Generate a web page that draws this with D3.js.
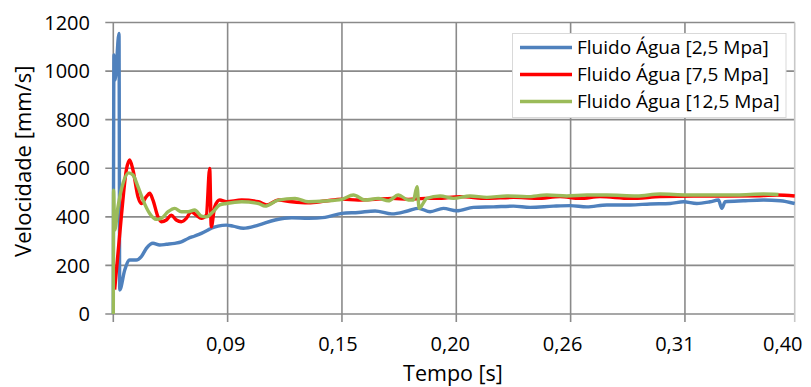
<!DOCTYPE html>
<html>
<head>
<meta charset="utf-8">
<script src="https://cdn.jsdelivr.net/npm/d3@7"></script>
<style>
  html, body { margin: 0; padding: 0; background: #fff; }
  svg { display: block; font-family: "Open Sans", sans-serif; }
</style>
</head>
<body>
<svg id="chart" width="811" height="387"></svg>
<script>
// sample index (category axis) vs velocity [mm/s]
const agua25 = [[0,0],[0.6,1066],[1.5,963],[5,1155],[5.6,99],[10,181],[14.3,222],[20.1,222],[24.5,236],[28.9,270],[34.7,291],[40.6,284],[46.4,287],[53.7,291],[59.5,297],[65.4,311],[71.2,321],[77,332],[82.9,346],[85.7,353],[91.6,362],[98.9,366],[104.7,362],[113.7,353],[126.9,366],[141.5,387],[156.1,396],[170.6,394],[185.2,398],[199.8,414],[214.3,418],[229,424],[243.6,412],[258.1,425],[266.8,435],[277.1,421],[288.7,435],[300.4,425],[315,439],[332.5,441],[350,444],[364.6,439],[385,444],[399.6,446],[414.2,441],[431.7,449],[452.1,449],[469.6,453],[487.1,455],[498.7,462],[510.4,455],[522,462],[529.3,469],[532.3,435],[535.2,462],[551.2,466],[568.7,469],[583.3,466],[596,455]]

const agua75 = [[1.2,100],[7,400],[11.4,593],[14.3,634],[17.2,593],[21.6,483],[24.5,455],[28.9,483],[31.8,497],[34.7,469],[39.1,400],[42,380],[46.4,387],[50.7,407],[55.1,387],[59.5,380],[63.9,394],[68.2,421],[72.6,407],[77,394],[81.4,407],[84.3,599],[85.7,359],[88.7,441],[93.1,469],[98.9,462],[112.3,469],[126.9,462],[134.2,449],[144.4,469],[156.1,462],[170.6,458],[185.2,465],[199.8,473],[214.3,469],[229,472],[243.6,476],[258.1,472],[272.7,476],[282.9,476],[303.3,483],[326.7,476],[350,480],[370.4,476],[390.8,483],[408.3,476],[425.8,483],[452.1,476],[478.3,483],[507.4,486],[536.7,486],[565.8,487],[580.4,490],[596,486]]

const agua125 = [[0,0],[0.2,510],[1.2,346],[4.1,441],[8.5,538],[13.5,581],[17.2,572],[21.6,524],[26,469],[31.8,414],[37.6,390],[42,394],[47.9,421],[53.7,435],[59.5,421],[65.4,421],[71.2,428],[77,403],[81.4,400],[87.2,421],[93.1,449],[98.9,455],[112.3,462],[126.9,455],[132.7,444],[144.4,469],[159,476],[170.6,462],[185.2,465],[199.8,472],[210,490],[220.2,469],[231.8,476],[240.6,466],[249.3,490],[258.1,469],[262.5,469],[265.7,524],[267.5,435],[274.2,476],[285.8,486],[297.5,476],[312.1,486],[326.7,480],[344.2,486],[361.7,483],[379.2,490],[396.7,486],[414.2,490],[431.7,490],[457.9,486],[478.3,494],[501.7,490],[522,490],[545.4,490],[568.7,494],[581.8,492]]

const seriesNames = ['Fluido Água [2,5 Mpa]', 'Fluido Água [7,5 Mpa]', 'Fluido Água [12,5 Mpa]']
const seriesColors = ['#4f81bd', '#ff0000', '#9bbb59']

const xTickIndex = [100, 200, 300, 400, 500, 596]
const xTickLabels = ['0,09', '0,15', '0,20', '0,26', '0,31', '0,40']
const yTicks = [0, 200, 400, 600, 800, 1000, 1200]

const plotLeft = 113.3, plotRight = 794.7, plotTop = 22.5, plotBottom = 314
const gridColor = '#8a8a8a'

const svg = d3.select('#chart')

const x = d3.scaleLinear().domain([0, 596]).range([plotLeft, plotRight])
const y = d3.scaleLinear().domain([0, 1200]).range([plotBottom, plotTop])
// excel spreads the category labels a little tighter than the gridlines
const xLabel = d3.scaleLinear().domain([0, 500]).range([plotLeft, x(500) - 10])

// horizontal gridlines + tick marks
svg.append('g')
	.selectAll('line')
	.data(yTicks)
	.join('line')
	.attr('x1', plotLeft - 8)
	.attr('x2', plotRight)
	.attr('y1', d => y(d))
	.attr('y2', d => y(d))
	.attr('stroke', gridColor)
	.attr('stroke-width', 1.6)

// vertical gridlines + tick marks
svg.append('g')
	.selectAll('line')
	.data([0].concat(xTickIndex))
	.join('line')
	.attr('x1', d => x(d))
	.attr('x2', d => x(d))
	.attr('y1', plotTop)
	.attr('y2', plotBottom + 8)
	.attr('stroke', (d, i) => i === xTickIndex.length ? '#c8c8c8' : gridColor)
	.attr('stroke-width', 1.6)

svg.append('g')
	.selectAll('text')
	.data(yTicks)
	.join('text')
	.attr('x', 90)
	.attr('y', d => y(d))
	.attr('dy', '0.36em')
	.attr('text-anchor', 'end')
	.attr('font-size', 20)
	.attr('fill', '#000')
	.text(d => d)

svg.append('g')
	.selectAll('text')
	.data(xTickIndex)
	.join('text')
	.attr('x', d => xLabel(d))
	.attr('y', 351)
	.attr('text-anchor', 'middle')
	.attr('font-size', 20)
	.attr('fill', '#000')
	.text((d, i) => xTickLabels[i])

svg.append('text')
	.attr('x', (plotLeft + plotRight) / 2 - 1)
	.attr('y', 381)
	.attr('text-anchor', 'middle')
	.attr('font-size', 21.5)
	.text('Tempo [s]')

svg.append('text')
	.attr('transform', `translate(31, ${(plotTop + plotBottom) / 2 - 7}) rotate(-90)`)
	.attr('text-anchor', 'middle')
	.attr('font-size', 22)
	.text('Velocidade [mm/s]')

const line = d3.line()
	.x(d => x(d[0]))
	.y(d => y(d[1]))
	.curve(d3.curveMonotoneX)

;[agua25, agua75, agua125].forEach((s, i) => {
	svg.append('path')
		.attr('d', line(s))
		.attr('fill', 'none')
		.attr('stroke', seriesColors[i])
		.attr('stroke-width', 3.4)
		.attr('stroke-linejoin', 'round')
})

// legend
const lg = svg.append('g')
lg.append('rect')
	.attr('x', 512.5)
	.attr('y', 33.5)
	.attr('width', 273.5)
	.attr('height', 84)
	.attr('fill', '#fff')
	.attr('stroke', '#d9d9d9')
	.attr('stroke-width', 1)

const rows = lg.selectAll('g.row')
	.data(seriesNames)
	.join('g')
	.attr('class', 'row')
	.attr('transform', (d, i) => `translate(520, ${47.5 + i * 27})`)

rows.append('line')
	.attr('x1', 0)
	.attr('x2', 52)
	.attr('stroke', (d, i) => seriesColors[i])
	.attr('stroke-width', 3.4)

rows.append('text')
	.attr('x', 57)
	.attr('dy', '0.35em')
	.attr('font-size', 19)
	.text(d => d)
</script>
</body>
</html>
